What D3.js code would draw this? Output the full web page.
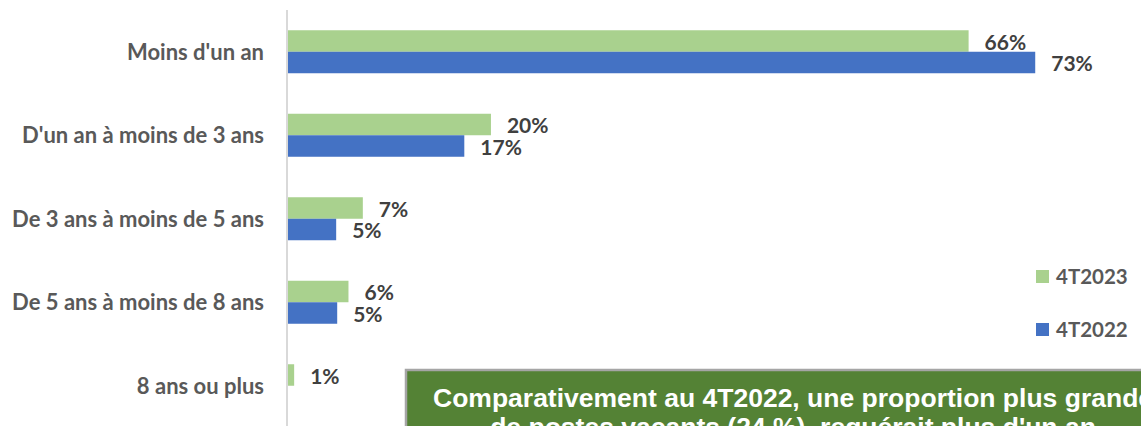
<!DOCTYPE html>
<html>
<head>
<meta charset="utf-8">
<script src="https://cdn.jsdelivr.net/npm/d3@7"></script>
<style>
    body { margin: 0; background: #fff; }
    svg { display: block; }
</style>
</head>
<body>
<div id="chart"></div>
<script>
// data
let categories = ["Moins d'un an", "D'un an à moins de 3 ans", "De 3 ans à moins de 5 ans", "De 5 ans à moins de 8 ans", "8 ans ou plus"];
let series = ["4T2023", "4T2022"];
let values2023 = [66.4, 19.8, 7.3, 5.9, 0.6];
let values2022 = [72.9, 17.2, 4.7, 4.8, null];
let noteLines = ["Comparativement au 4T2022, une proportion plus grande", "de postes vacants (24 %), requérait  plus d'un an"];

let colors = {"4T2023": "#a9d18e", "4T2022": "#4472c4"};

let width = 1141, height = 426;
let labelFont = "Lato, 'Noto Sans', sans-serif";

let svg = d3.select("#chart").append("svg")
    .attr("width", width)
    .attr("height", height);

let x = d3.scaleLinear()
    .domain([0, 80])
    .range([288, 288 + 820]);

let y = d3.scaleBand()
    .domain(categories)
    .range([10, 427.5])
    .paddingInner(0.485)
    .paddingOuter(0.2425);

let ySub = d3.scaleBand()
    .domain(series)
    .range([0, y.bandwidth()]);

// category labels
svg.append("g")
    .selectAll("text")
    .data(categories)
    .enter()
    .append("text")
    .attr("x", 264)
    .attr("y", d => y(d) + y.bandwidth() / 2)
    .attr("dy", "0.36em")
    .attr("text-anchor", "end")
    .attr("font-family", labelFont)
    .attr("font-weight", "bold")
    .attr("font-size", 22)
    .attr("fill", "#595959")
    .text(d => d);

// bars
let rows = [];
categories.forEach(function(c, i) {
    rows.push({cat: c, key: "4T2023", value: values2023[i]});
    rows.push({cat: c, key: "4T2022", value: values2022[i]});
});
let shown = rows.filter(d => d.value !== null);

svg.append("g")
    .selectAll("rect")
    .data(shown)
    .enter()
    .append("rect")
    .attr("x", x(0))
    .attr("y", d => y(d.cat) + ySub(d.key))
    .attr("width", d => x(d.value) - x(0))
    .attr("height", ySub.bandwidth())
    .attr("fill", d => colors[d.key]);

// value labels
svg.append("g")
    .selectAll("text")
    .data(shown)
    .enter()
    .append("text")
    .attr("x", d => x(d.value) + 16)
    .attr("y", d => y(d.cat) + ySub(d.key) + ySub.bandwidth() / 2)
    .attr("dy", "0.42em")
    .attr("font-family", labelFont)
    .attr("font-weight", "bold")
    .attr("font-size", 21)
    .attr("fill", "#404040")
    .text(d => d3.format(".0f")(d.value) + "%");

// axis line
svg.append("line")
    .attr("x1", 287).attr("x2", 287)
    .attr("y1", 10).attr("y2", height)
    .attr("stroke", "#d9d9d9")
    .attr("stroke-width", 2);

// legend
let legend = svg.append("g")
    .selectAll("g")
    .data(series)
    .enter()
    .append("g")
    .attr("transform", (d, i) => `translate(1036, ${277 + i * 53})`);

legend.append("rect")
    .attr("x", 0).attr("y", -7)
    .attr("width", 13).attr("height", 13)
    .attr("fill", d => colors[d]);

legend.append("text")
    .attr("x", 20)
    .attr("dy", "0.36em")
    .attr("font-family", labelFont)
    .attr("font-weight", "bold")
    .attr("font-size", 20.5)
    .attr("fill", "#595959")
    .text(d => d);

// note box (runs past the right edge, like the source)
let note = svg.append("g");
let noteRect = note.append("rect")
    .attr("x", 406).attr("y", 370)
    .attr("height", 90)
    .attr("fill", "#548235")
    .attr("stroke", "#a5a5a5")
    .attr("stroke-width", 2.5);

let noteText = note.selectAll("text")
    .data(noteLines)
    .enter()
    .append("text")
    .attr("y", (d, i) => 398 + i * 29)
    .attr("dy", "0.35em")
    .attr("text-anchor", "middle")
    .attr("font-family", "'Liberation Sans', Arial, sans-serif")
    .attr("font-weight", "bold")
    .attr("font-size", 26.5)
    .attr("fill", "#ffffff")
    .text(d => d);

let firstWidth = noteText.nodes()[0].getComputedTextLength();
let cx = 433 + firstWidth / 2;
noteText.attr("x", cx);
noteRect.attr("width", (cx - 406) * 2);
</script>
</body>
</html>
